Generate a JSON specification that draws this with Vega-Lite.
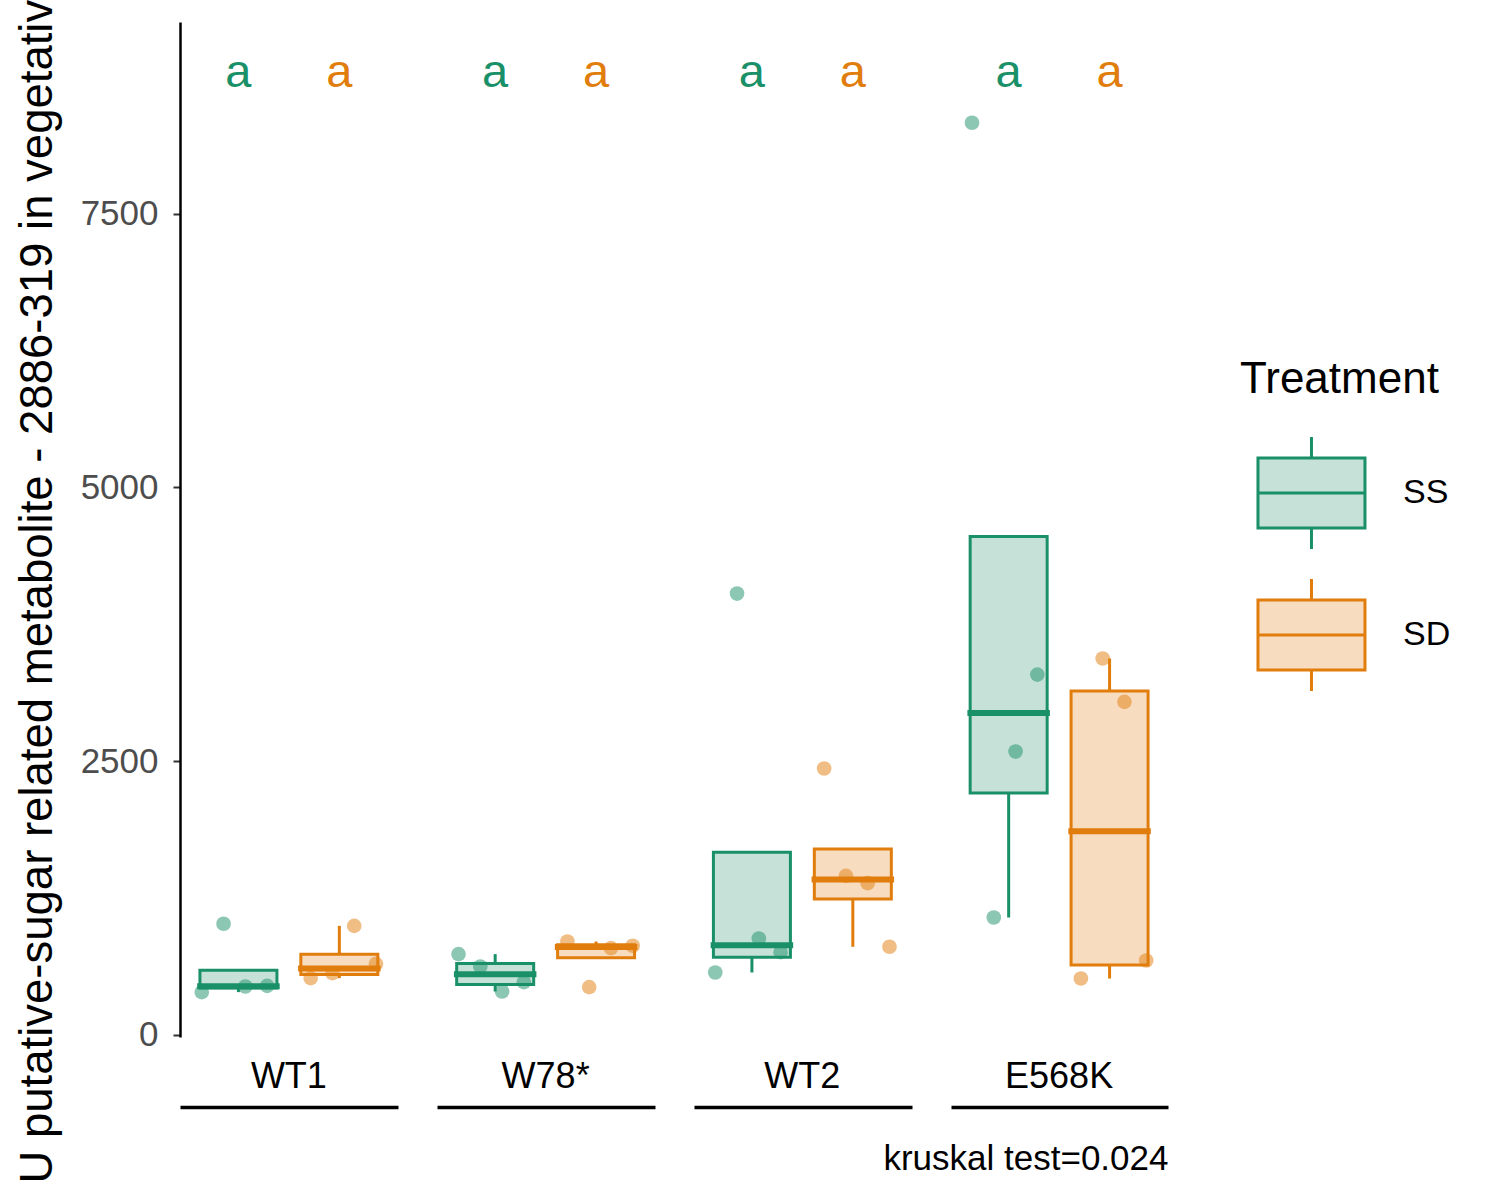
{
  "$schema": "https://vega.github.io/schema/vega-lite/v6.json",
  "autosize": {"type": "none"},
  "padding": {"left": 180, "top": 22, "right": 332, "bottom": 163},
  "width": 988,
  "height": 1015,
  "datasets": {
    "points": [
      {"Genotype": "WT1", "Treatment": "SS", "sample": "SS1", "value": 390},
      {"Genotype": "WT1", "Treatment": "SS", "sample": "SS2", "value": 1014},
      {"Genotype": "WT1", "Treatment": "SS", "sample": "SS3", "value": 441},
      {"Genotype": "WT1", "Treatment": "SS", "sample": "SS4", "value": 447},
      {"Genotype": "WT1", "Treatment": "SD", "sample": "SD1", "value": 518},
      {"Genotype": "WT1", "Treatment": "SD", "sample": "SD2", "value": 563},
      {"Genotype": "WT1", "Treatment": "SD", "sample": "SD3", "value": 995},
      {"Genotype": "WT1", "Treatment": "SD", "sample": "SD4", "value": 648},
      {"Genotype": "W78*", "Treatment": "SS", "sample": "SS1", "value": 737},
      {"Genotype": "W78*", "Treatment": "SS", "sample": "SS2", "value": 624},
      {"Genotype": "W78*", "Treatment": "SS", "sample": "SS3", "value": 396},
      {"Genotype": "W78*", "Treatment": "SS", "sample": "SS4", "value": 481},
      {"Genotype": "W78*", "Treatment": "SD", "sample": "SD1", "value": 852},
      {"Genotype": "W78*", "Treatment": "SD", "sample": "SD2", "value": 436},
      {"Genotype": "W78*", "Treatment": "SD", "sample": "SD3", "value": 792},
      {"Genotype": "W78*", "Treatment": "SD", "sample": "SD4", "value": 813},
      {"Genotype": "WT2", "Treatment": "SS", "sample": "SS1", "value": 569},
      {"Genotype": "WT2", "Treatment": "SS", "sample": "SS2", "value": 4030},
      {"Genotype": "WT2", "Treatment": "SS", "sample": "SS3", "value": 880},
      {"Genotype": "WT2", "Treatment": "SS", "sample": "SS4", "value": 755},
      {"Genotype": "WT2", "Treatment": "SD", "sample": "SD1", "value": 2432},
      {"Genotype": "WT2", "Treatment": "SD", "sample": "SD2", "value": 1452},
      {"Genotype": "WT2", "Treatment": "SD", "sample": "SD3", "value": 1385},
      {"Genotype": "WT2", "Treatment": "SD", "sample": "SD4", "value": 804},
      {"Genotype": "E568K", "Treatment": "SS", "sample": "SS1", "value": 8330},
      {"Genotype": "E568K", "Treatment": "SS", "sample": "SS2", "value": 1071},
      {"Genotype": "E568K", "Treatment": "SS", "sample": "SS3", "value": 2587},
      {"Genotype": "E568K", "Treatment": "SS", "sample": "SS4", "value": 3290},
      {"Genotype": "E568K", "Treatment": "SD", "sample": "SD1", "value": 514},
      {"Genotype": "E568K", "Treatment": "SD", "sample": "SD2", "value": 3437},
      {"Genotype": "E568K", "Treatment": "SD", "sample": "SD3", "value": 3041},
      {"Genotype": "E568K", "Treatment": "SD", "sample": "SD4", "value": 679}
    ],
    "letters": [
      {"Genotype": "WT1", "Treatment": "SS", "letter": "a"},
      {"Genotype": "WT1", "Treatment": "SD", "letter": "a"},
      {"Genotype": "W78*", "Treatment": "SS", "letter": "a"},
      {"Genotype": "W78*", "Treatment": "SD", "letter": "a"},
      {"Genotype": "WT2", "Treatment": "SS", "letter": "a"},
      {"Genotype": "WT2", "Treatment": "SD", "letter": "a"},
      {"Genotype": "E568K", "Treatment": "SS", "letter": "a"},
      {"Genotype": "E568K", "Treatment": "SD", "letter": "a"}
    ]
  },
  "encoding": {
    "x": {
      "field": "Genotype",
      "type": "nominal",
      "sort": ["WT1", "W78*", "WT2", "E568K"],
      "scale": {"paddingInner": 0.1518, "paddingOuter": 0},
      "axis": {
        "title": "kruskal test=0.024",
        "titleX": 988,
        "titleY": 62,
        "titleAlign": "right",
        "titleBaseline": "alphabetic",
        "offset": 70,
        "domainDash": [218, 39]
      }
    }
  },
  "layer": [
    {
      "data": {"name": "points"},
      "mark": {
        "type": "boxplot",
        "extent": 1.5,
        "size": 77,
        "outliers": false,
        "box": {"strokeWidth": 3},
        "rule": {"strokeWidth": 3},
        "median": {"strokeWidth": 5.5, "thickness": 0.5, "opacity": 1}
      },
      "encoding": {
        "xOffset": {
          "field": "Treatment",
          "type": "nominal",
          "scale": {"domain": ["SS", "SD"], "paddingInner": 0, "paddingOuter": 0.079}
        },
        "y": {
          "field": "value",
          "type": "quantitative",
          "scale": {"domain": [-20, 9250], "nice": false, "zero": false},
          "axis": {
            "values": [0, 2500, 5000, 7500],
            "format": "d",
            "titleAlign": "left",
            "titleY": 1161
          },
          "title": "U putative-sugar related metabolite - 2886-319 in vegetative"
        },
        "fill": {
          "field": "Treatment",
          "type": "nominal",
          "scale": {"domain": ["SS", "SD"], "range": ["#C6E2D8", "#F7DCC0"]},
          "legend": {
            "title": "Treatment",
            "symbolType": "M-0.692,-0.654H1.308V0.654H-0.692Z M-0.692,0H1.308 M0.308,-0.654V-1.047 M0.308,0.654V1.047",
            "symbolSize": 11449
          }
        },
        "stroke": {
          "field": "Treatment",
          "type": "nominal",
          "scale": {"domain": ["SS", "SD"], "range": ["#1A9068", "#E17D0C"]},
          "legend": {
            "title": "Treatment",
            "symbolType": "M-0.692,-0.654H1.308V0.654H-0.692Z M-0.692,0H1.308 M0.308,-0.654V-1.047 M0.308,0.654V1.047",
            "symbolSize": 11449
          }
        }
      }
    },
    {
      "data": {"name": "points"},
      "mark": {"type": "circle", "size": 215, "opacity": 0.5},
      "encoding": {
        "xOffset": {
          "field": "sample",
          "type": "nominal",
          "scale": {
            "type": "point",
            "domain": ["SS1", "SS2", "SS3", "SS4", "-", "SD1", "SD2", "SD3", "SD4"],
            "padding": 1.396
          }
        },
        "y": {"field": "value", "type": "quantitative"},
        "color": {
          "field": "Treatment",
          "type": "nominal",
          "scale": {"domain": ["SS", "SD"], "range": ["#1A9068", "#E17D0C"]},
          "legend": null
        }
      }
    },
    {
      "data": {"name": "letters"},
      "mark": {"type": "text", "fontSize": 47, "baseline": "alphabetic", "font": "Liberation Sans"},
      "encoding": {
        "xOffset": {
          "field": "Treatment",
          "type": "nominal",
          "scale": {"type": "point", "domain": ["SS", "SD"], "padding": 0.579}
        },
        "y": {"datum": 8660, "type": "quantitative"},
        "text": {"field": "letter"},
        "color": {"field": "Treatment", "type": "nominal", "legend": null}
      }
    }
  ],
  "resolve": {"scale": {"xOffset": "independent"}},
  "config": {
    "font": "Liberation Sans",
    "view": {"stroke": null},
    "axis": {
      "grid": false,
      "titleFontWeight": "normal",
      "titleColor": "black",
      "titleFont": "Liberation Sans",
      "labelFont": "Liberation Sans"
    },
    "axisY": {
      "domainColor": "black",
      "domainWidth": 2.5,
      "tickColor": "#333333",
      "tickWidth": 2,
      "tickSize": 7,
      "labelColor": "#4D4D4D",
      "labelFontSize": 35,
      "labelPadding": 15,
      "titleFontSize": 45.5,
      "titlePadding": 19,
      "titleLimit": 0
    },
    "axisX": {
      "domainColor": "black",
      "domainWidth": 3.5,
      "ticks": false,
      "tickSize": 0,
      "labelAngle": 0,
      "labelColor": "black",
      "labelFontSize": 36,
      "labelBaseline": "alphabetic",
      "labelPadding": -20,
      "titleFontSize": 35
    },
    "legend": {
      "orient": "none",
      "legendX": 1060,
      "legendY": 336,
      "titleFontSize": 44,
      "titleFontWeight": "normal",
      "titleColor": "black",
      "titleLimit": 0,
      "titlePadding": 36,
      "labelFontSize": 34,
      "labelColor": "black",
      "labelOffset": 53,
      "rowPadding": 16,
      "symbolStrokeWidth": 3,
      "symbolOpacity": 1
    }
  }
}
